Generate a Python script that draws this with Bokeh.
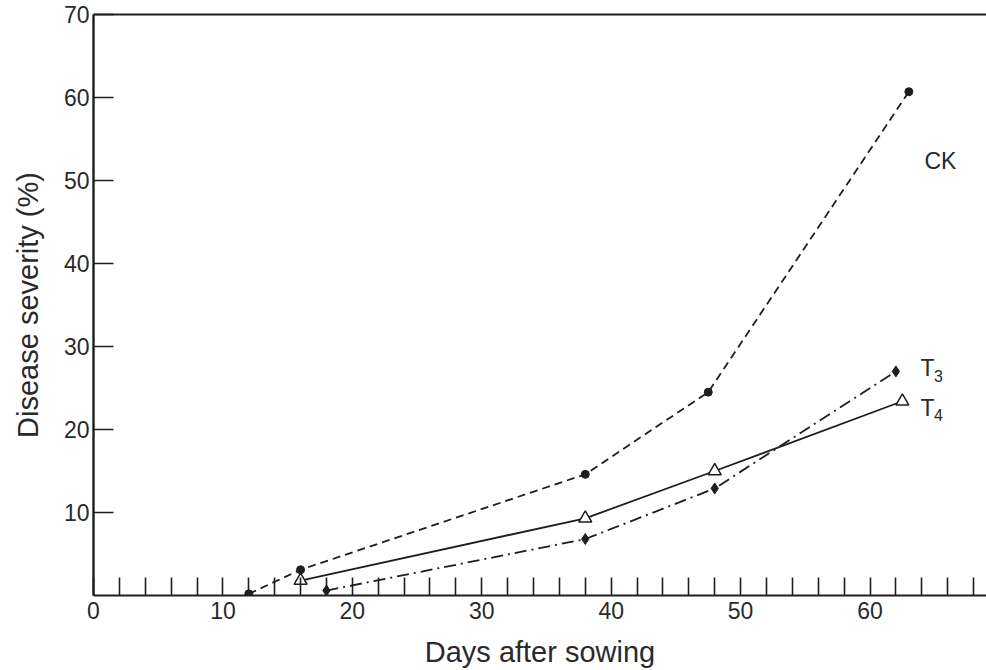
from bokeh.plotting import figure
from bokeh.models import ColumnDataSource, FixedTicker, LinearAxis, Range1d
from bokeh.core.properties import value
from bokeh.embed import file_html
from bokeh.resources import INLINE

# Data
ck_days = [12, 16, 38, 47.5, 63]
ck_sev = [0.2, 3.1, 14.6, 24.5, 60.7]
t3_days = [18, 38, 48, 62]
t3_sev = [0.6, 6.8, 12.9, 27.0]
t4_days = [16, 38, 48, 62.5]
t4_sev = [1.8, 9.3, 15.0, 23.4]

x_major = [0, 10, 20, 30, 40, 50, 60]
x_minor = [2, 4, 6, 8, 12, 14, 16, 18, 22, 24, 26, 28, 32, 34, 36, 38, 42, 44, 46, 48,
           52, 54, 56, 58, 62, 64, 66, 68]
y_major = [10, 20, 30, 40, 50, 60, 70]

labels_x = [64.2, 63.9, 63.9]
labels_y = [52.4, 27.4, 22.6]
labels_main = ["CK", "T", "T"]
sub_x = [64.95, 64.95]
sub_y = [26.5, 21.7]
sub_text = ["3", "4"]

FONT = "Liberation Sans"
INK = "#1e1e1e"
TXT = "#2a2a2a"

p = figure(width=986, height=670, output_backend="svg", toolbar_location=None,
           x_range=Range1d(0, 69), y_range=Range1d(0, 70),
           min_border_left=93, min_border_right=0, min_border_top=14, min_border_bottom=75)
p.outline_line_color = None
p.grid.visible = False
p.background_fill_color = "white"
p.border_fill_color = "white"

# x axis
xa = p.xaxis[0]
xa.ticker = FixedTicker(ticks=x_major, minor_ticks=x_minor)
xa.major_tick_in = 18
xa.major_tick_out = 0
xa.minor_tick_in = 18
xa.minor_tick_out = 0
xa.axis_line_width = 2
xa.axis_line_color = INK
xa.major_tick_line_width = 1.6
xa.minor_tick_line_width = 1.6
xa.major_tick_line_color = INK
xa.minor_tick_line_color = INK
xa.major_label_text_font = FONT
xa.major_label_text_font_size = "23px"
xa.major_label_text_color = TXT
xa.major_label_standoff = 6
xa.axis_label = "Days after sowing"
xa.axis_label_text_font = FONT
xa.axis_label_text_font_size = "29px"
xa.axis_label_text_font_style = "normal"
xa.axis_label_text_color = TXT
xa.axis_label_standoff = 14

# y axis
ya = p.yaxis[0]
ya.ticker = FixedTicker(ticks=y_major)
ya.major_tick_in = 20
ya.major_tick_out = 0
ya.minor_tick_in = 0
ya.minor_tick_out = 0
ya.axis_line_width = 2.4
ya.axis_line_color = INK
ya.major_tick_line_width = 1.6
ya.major_tick_line_color = INK
ya.major_label_text_font = FONT
ya.major_label_text_font_size = "23px"
ya.major_label_text_color = TXT
ya.major_label_standoff = 4
ya.axis_label = "Disease severity (%)"
ya.axis_label_text_font = FONT
ya.axis_label_text_font_size = "29px"
ya.axis_label_text_font_style = "normal"
ya.axis_label_text_color = TXT
ya.axis_label_standoff = 17

# top border as a bare axis
top = LinearAxis(ticker=FixedTicker(ticks=[]), major_tick_in=0, major_tick_out=0,
                 minor_tick_in=0, minor_tick_out=0, major_label_text_font_size="0px",
                 major_label_standoff=0, axis_line_width=2, axis_line_color=INK)
p.add_layout(top, "above")

# series
p.line(ck_days, ck_sev, line_color=INK, line_width=1.8, line_dash="8 5")
p.scatter(ck_days, ck_sev, marker="circle", size=8, fill_color=INK, line_color=INK)

p.line(t3_days, t3_sev, line_color=INK, line_width=1.8, line_dash="12 5 2 5")
p.scatter(t3_days, t3_sev, marker="diamond", size=11, fill_color=INK, line_color=INK)

p.line(t4_days, t4_sev, line_color=INK, line_width=1.8)
p.scatter(t4_days, t4_sev, marker="triangle", size=13, fill_color="white",
          line_color=INK, line_width=1.5)

# labels
p.text(x=labels_x, y=labels_y, text=labels_main, text_font=value(FONT),
       text_font_size="23px", text_color=TXT, text_baseline="middle", text_align="left")
p.text(x=sub_x, y=sub_y, text=sub_text, text_font=value(FONT),
       text_font_size="16px", text_color=TXT, text_baseline="middle", text_align="left")

open("out.html", "w").write(file_html(p, INLINE))
